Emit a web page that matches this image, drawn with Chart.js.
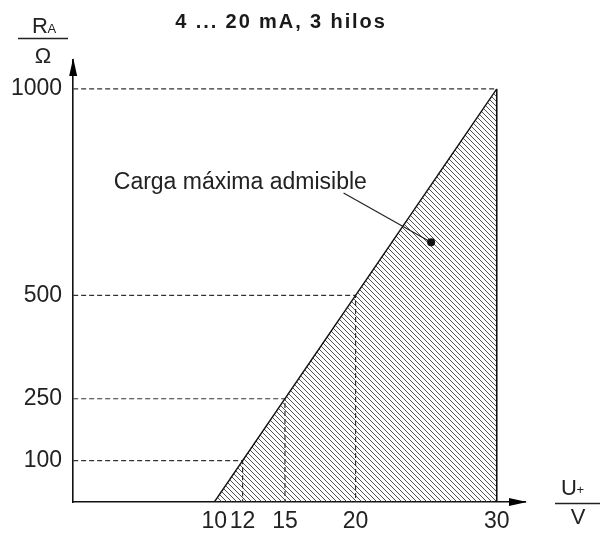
<!DOCTYPE html>
<html>
<head>
<meta charset="utf-8">
<script src="https://cdn.jsdelivr.net/npm/chart.js@4/dist/chart.umd.min.js"></script>
<style>
html,body{margin:0;padding:0;background:#fff;}
#wrap{width:605px;height:533px;}
</style>
</head>
<body>
<div id="wrap"><canvas id="c" width="605" height="533"></canvas></div>
<script>
// ---- data ----
const titleText = "4 ... 20 mA, 3 hilos";
const annotationText = "Carga máxima admisible";
const xTickValues = [10, 12, 15, 20, 30];
const yTickValues = [100, 250, 500, 1000];
const loadLineX = [10, 30];
const loadLineY = [0, 1000];
const edgeX = [30, 30];
const edgeY = [0, 1000];
const guide1000X = [0, 30];
const guide1000Y = [1000, 1000];
const guide500X = [0, 20, 20];
const guide500Y = [500, 500, 0];
const guide250X = [0, 15, 15];
const guide250Y = [250, 250, 0];
const guide100X = [0, 12, 12];
const guide100Y = [100, 100, 0];
const leaderX = [19.15, 25.35];
const leaderY = [748, 629];
const annotationPos = [20.8, 774];
const xMax = 32;
const yMax = 1070;

const pts = (xs, ys) => xs.map((x, i) => ({x: x, y: ys[i]}));

// hatch pattern
function makeHatch() {
  const s = 5;
  const c = document.createElement('canvas');
  c.width = s; c.height = s;
  const g = c.getContext('2d');
  g.strokeStyle = '#333';
  g.lineWidth = 0.85;
  for (let k = -1; k <= 1; k++) {
    g.beginPath();
    g.moveTo(k * s, 0);
    g.lineTo(k * s + s, s);
    g.stroke();
  }
  return g.createPattern(c, 'repeat');
}
const hatch = makeHatch();

const FONT = '"Liberation Sans", Arial, Helvetica, sans-serif';
const dashStyle = {borderColor: '#333', borderWidth: 1.2, borderDash: [5, 3], pointRadius: 0, fill: false, tension: 0};

const decor = {
  id: 'decor',
  afterDraw(chart) {
    const {ctx, chartArea: a, scales: {x, y}} = chart;
    ctx.save();
    ctx.fillStyle = '#000';
    // arrows
    ctx.beginPath();
    ctx.moveTo(a.left, a.top - 2);
    ctx.lineTo(a.left - 4, a.top + 16);
    ctx.lineTo(a.left + 4, a.top + 16);
    ctx.closePath(); ctx.fill();
    ctx.beginPath();
    ctx.moveTo(a.right + 2, a.bottom);
    ctx.lineTo(a.right - 16, a.bottom - 4);
    ctx.lineTo(a.right - 16, a.bottom + 4);
    ctx.closePath(); ctx.fill();

    ctx.fillStyle = '#1a1a1a';
    // title
    ctx.font = 'bold 20px ' + FONT;
    ctx.letterSpacing = '1.9px';
    ctx.textAlign = 'center';
    ctx.textBaseline = 'middle';
    ctx.fillText(titleText, 281, 22);
    ctx.letterSpacing = '0px';

    // annotation
    ctx.fillStyle = '#222';
    ctx.font = '23px ' + FONT;
    ctx.textAlign = 'right';
    ctx.fillText(annotationText, x.getPixelForValue(annotationPos[0]), y.getPixelForValue(annotationPos[1]));

    // y-axis unit fraction
    ctx.textAlign = 'left';
    ctx.textBaseline = 'alphabetic';
    ctx.font = '22px ' + FONT;
    ctx.fillText('R', 32, 33);
    ctx.font = '13px ' + FONT;
    ctx.fillText('A', 47.5, 33);
    ctx.strokeStyle = '#222'; ctx.lineWidth = 1.3;
    ctx.beginPath(); ctx.moveTo(18, 38.5); ctx.lineTo(68, 38.5); ctx.stroke();
    ctx.font = '22px ' + FONT;
    ctx.textAlign = 'center';
    ctx.fillText('Ω', 43, 63);

    // x-axis unit fraction
    ctx.textAlign = 'left';
    ctx.fillText('U', 561, 495);
    ctx.font = '13px ' + FONT;
    ctx.fillText('+', 576.5, 494);
    ctx.beginPath(); ctx.moveTo(555, 503.5); ctx.lineTo(600, 503.5); ctx.stroke();
    ctx.font = '22px ' + FONT;
    ctx.textAlign = 'center';
    ctx.fillText('V', 578, 524);
    ctx.restore();
  }
};

new Chart(document.getElementById('c'), {
  type: 'line',
  data: {
    datasets: [
      {data: pts(loadLineX, loadLineY), borderColor: '#111', borderWidth: 1.4, pointRadius: 0, fill: 'origin', backgroundColor: hatch, tension: 0, order: 1},
      {data: pts(edgeX, edgeY), borderColor: '#111', borderWidth: 1.6, pointRadius: 0, fill: false, order: 0},
      Object.assign({data: pts(guide1000X, guide1000Y), order: 2}, dashStyle),
      Object.assign({data: pts(guide500X, guide500Y), order: 2}, dashStyle),
      Object.assign({data: pts(guide250X, guide250Y), order: 2}, dashStyle),
      Object.assign({data: pts(guide100X, guide100Y), order: 2}, dashStyle),
      {data: pts(leaderX, leaderY), borderColor: '#222', borderWidth: 1.2, pointRadius: [0, 4], pointBackgroundColor: '#111', pointBorderWidth: 0, fill: false, order: 0}
    ]
  },
  options: {
    responsive: false,
    animation: false,
    events: [],
    layout: {padding: {left: 0, right: 80, top: 60, bottom: -8}},
    plugins: {legend: {display: false}, tooltip: {enabled: false}, title: {display: false}},
    scales: {
      x: {
        type: 'linear', min: 0, max: xMax,
        grid: {display: false, drawTicks: false},
        border: {display: true, color: '#111', width: 1.6},
        afterBuildTicks: s => { s.ticks = xTickValues.map(v => ({value: v})); },
        ticks: {autoSkip: false, maxRotation: 0, padding: 8, color: '#222', font: {family: FONT, size: 23, lineHeight: 1}, callback: v => String(v)}
      },
      y: {
        type: 'linear', min: 0, max: yMax,
        grid: {display: false, drawTicks: false},
        border: {display: true, color: '#111', width: 1.6},
        afterBuildTicks: s => { s.ticks = yTickValues.map(v => ({value: v})); },
        ticks: {autoSkip: false, padding: 11, color: '#222', font: {family: FONT, size: 23}, callback: v => String(v)}
      }
    }
  },
  plugins: [decor]
});
</script>
</body>
</html>
